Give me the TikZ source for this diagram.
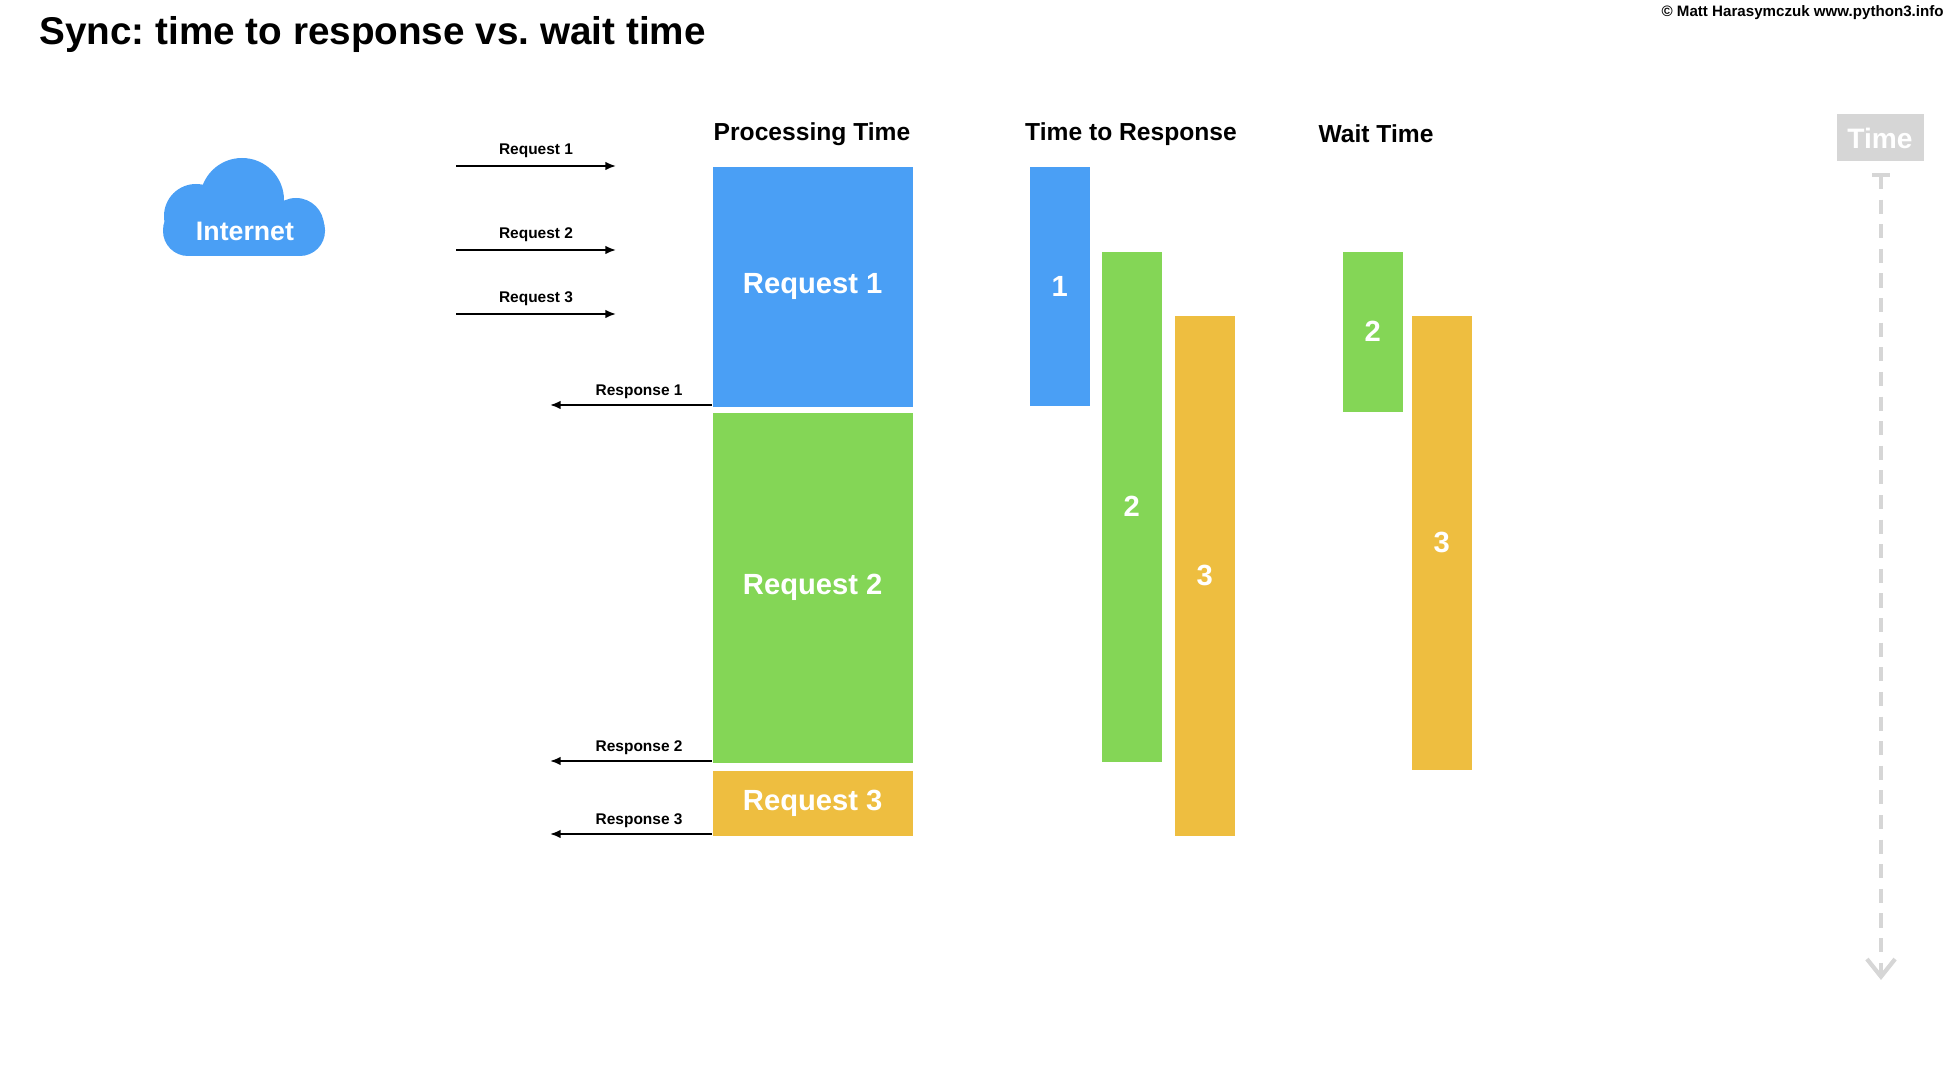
\documentclass[tikz,border=0pt]{standalone}
\usepackage{fontspec}
\setmainfont{Liberation Sans}
\usetikzlibrary{arrows.meta}
\definecolor{cblue}{HTML}{4A9FF5}
\definecolor{cgreen}{HTML}{84D656}
\definecolor{cyellow}{HTML}{EEBE40}
\definecolor{cgray}{HTML}{D6D6D6}
\frenchspacing
\tikzset{
  bar/.style={fill=#1,draw=none,inner sep=0,anchor=north west,text=white,font=\bfseries\fontsize{8.3}{9}\selectfont},
  hdr/.style={font=\bfseries\fontsize{7}{8}\selectfont},
  lbl/.style={font=\bfseries\fontsize{4.4}{5}\selectfont,inner sep=1pt},
  arr/.style={-{Latex[length=3pt,width=2.4pt]},line width=0.5pt}
}
\newcommand{\barbox}[7]{\node[bar=#2,minimum width=#5*0.01cm,minimum height=#6*0.01cm] (#1) at (#3,#4) {#7};}
\begin{document}
\begin{tikzpicture}[x=0.01cm,y=-0.01cm]
\useasboundingbox (0,0) rectangle (1960,1080);
\node[anchor=west,font=\bfseries\fontsize{11}{12}\selectfont] (title) at (27,35) {Sync: time to response vs. wait time};
\node[anchor=east,font=\bfseries\fontsize{4.3}{5}\selectfont] (copy) at (1956,13) {© Matt Harasymczuk www.python3.info};
% cloud
\fill[cblue] (242,200) circle (42) (196,216) circle (32) (296,226) circle (28);
\fill[cblue,rounded corners=0.25cm] (163,205) rectangle (325,256);
\node[text=white,font=\bfseries\fontsize{7.6}{8}\selectfont] (inet) at (245,231) {Internet};
% headers
\node[hdr] (h1) at (812,134) {Processing Time};
\node[hdr] (h2) at (1131,134) {Time to Response};
\node[hdr] (h3) at (1376,134) {Wait Time};
% processing
\barbox{p1}{cblue}{712}{166}{200}{240}{Request 1}
\barbox{p2}{cgreen}{712}{412}{200}{350}{Request 2}
\barbox{p3}{cyellow}{712}{770}{200}{65}{Request 3}
% time to response
\barbox{t1}{cblue}{1029}{166}{60}{239}{1}
\barbox{t2}{cgreen}{1101}{251}{60}{510}{2}
\barbox{t3}{cyellow}{1174}{315}{60}{520}{3}
% wait
\barbox{w2}{cgreen}{1342}{251}{60}{160}{2}
\barbox{w3}{cyellow}{1411}{315}{60}{454}{3}
% requests
\foreach \i/\y in {1/166,2/250,3/314}{
  \coordinate (rs\i) at (456,\y); \coordinate (re\i) at (616,\y);
  \draw[arr] (rs\i) -- (re\i) node[lbl,midway,above=1pt] (rl\i) {Request \i};
}
% responses
\foreach \i/\y in {1/405,2/761,3/834}{
  \coordinate (ps\i) at (712,\y); \coordinate (pe\i) at (550,\y);
  \draw[arr] (ps\i) -- (pe\i) node[lbl,pos=0.45,above=0.5pt] (pl\i) {Response \i};
}
% time axis
\node[fill=cgray,text=white,font=\bfseries\fontsize{8}{9}\selectfont,minimum width=87*0.01cm,minimum height=47*0.01cm,inner sep=0] (time) at (1880,138) {Time};
\coordinate (ts) at (1881,175); \coordinate (te) at (1881,980);
\draw[cgray,line width=1.2pt,dashed,dash pattern=on 4pt off 3pt,-{Straight Barb[length=5pt,width=8pt]}] (ts) -- (te);
\draw[cgray,line width=1.2pt] (1872,175) -- (1890,175);
\end{tikzpicture}
\end{document}
